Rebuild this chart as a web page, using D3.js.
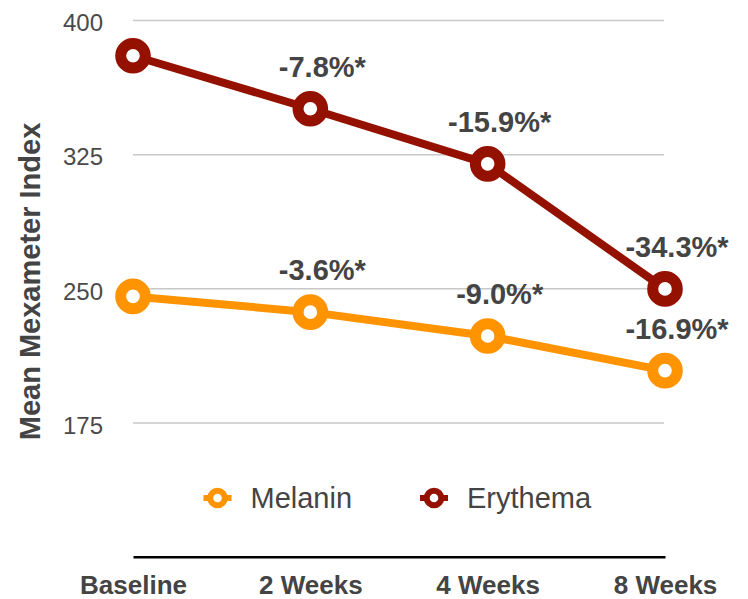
<!DOCTYPE html>
<html><head><meta charset="utf-8">
<script src="https://cdn.jsdelivr.net/npm/d3@7"></script>
<style>
html,body{margin:0;padding:0;background:#fff;}
svg{display:block;font-family:"Liberation Sans",Arial,Helvetica,sans-serif;}
</style></head>
<body>
<svg id="chart" width="748" height="599"></svg>
<script>
const categories = ["Baseline", "2 Weeks", "4 Weeks", "8 Weeks"];
const melanin = [245.5, 236.7, 223.4, 204.0];
const erythema = [380.0, 350.4, 319.6, 249.7];
const melaninLabels = [null, "-3.6%*", "-9.0%*", "-16.9%*"];
const erythemaLabels = [null, "-7.8%*", "-15.9%*", "-34.3%*"];
const yTicks = [175, 250, 325, 400];
const yDomain = [100, 400];
const seriesNames = ["Melanin", "Erythema"];
const colors = {Melanin: "#FF9300", Erythema: "#941100"};
const textColor = "#444";

const svg = d3.select("#chart");
const x = d3.scalePoint().domain(categories).range([133, 665]);
const y = d3.scaleLinear().domain(yDomain).range([556.7, 20]);

// gridlines + y tick labels
const yAxis = d3.axisLeft(y).tickValues(yTicks).tickSize(-(664 - 133)).tickPadding(30).tickFormat(d3.format("d"));
const gy = svg.append("g").attr("transform", "translate(133,0)").call(yAxis);
gy.select(".domain").remove();
gy.selectAll(".tick line").attr("stroke", "#c8c8c8").attr("stroke-width", 1.5);
gy.selectAll(".tick text").attr("fill", "#4a4a4a").attr("font-size", 24).attr("dy", "0.45em")
  .attr("font-family", "'Liberation Sans',Arial,sans-serif");

// x axis
const xAxis = d3.axisBottom(x).tickSize(0).tickSizeOuter(0).tickPadding(0);
const gx = svg.append("g").attr("transform", "translate(0,556.7)").call(xAxis);
gx.select(".domain").attr("stroke", "#000").attr("stroke-width", 2.5);
gx.selectAll(".tick text").attr("fill", textColor).attr("font-size", 26).attr("font-weight", "bold")
  .attr("y", 37.5).attr("dy", 0).attr("font-family", "'Liberation Sans',Arial,sans-serif");

// y title
svg.append("text")
  .attr("transform", "translate(39.5,281.5) rotate(-90)")
  .attr("text-anchor", "middle")
  .attr("fill", textColor).attr("font-size", 29).attr("font-weight", "bold")
  .text("Mean Mexameter Index");

const series = [
  {name: "Melanin", values: melanin, labels: melaninLabels},
  {name: "Erythema", values: erythema, labels: erythemaLabels}
];

const line = d3.line().x((d, i) => x(categories[i])).y(d => y(d));

series.forEach(s => {
  const g = svg.append("g");
  g.append("path").datum(s.values).attr("d", line)
    .attr("fill", "none").attr("stroke", colors[s.name]).attr("stroke-width", 8).attr("stroke-linejoin", "round");
  g.selectAll("circle").data(s.values).join("circle")
    .attr("cx", (d, i) => x(categories[i])).attr("cy", d => y(d))
    .attr("r", 12.3).attr("fill", "#fff").attr("stroke", colors[s.name]).attr("stroke-width", 11);
});

// data labels
series.forEach(s => {
  svg.append("g").selectAll("text")
    .data(s.values.map((v, i) => ({v, i, lab: s.labels[i]})).filter(d => d.lab))
    .join("text")
    .attr("x", d => x(categories[d.i]) + 12)
    .attr("y", d => y(d.v) - 32)
    .attr("text-anchor", "middle")
    .attr("fill", textColor).attr("font-size", 29).attr("font-weight", "bold")
    .text(d => d.lab);
});

// legend
const legendX = d3.scaleOrdinal().domain(seriesNames).range([217.5, 434]);
const lg = svg.append("g");
seriesNames.forEach(n => {
  const cx = legendX(n);
  lg.append("line").attr("x1", cx - 14).attr("x2", cx + 14).attr("y1", 498).attr("y2", 498)
    .attr("stroke", colors[n]).attr("stroke-width", 6);
  lg.append("circle").attr("cx", cx).attr("cy", 498).attr("r", 7.3)
    .attr("fill", "#fff").attr("stroke", colors[n]).attr("stroke-width", 6);
  lg.append("text").attr("x", cx + 33).attr("y", 507.5).attr("fill", textColor).attr("font-size", 29).text(n);
});
</script>
</body></html>
